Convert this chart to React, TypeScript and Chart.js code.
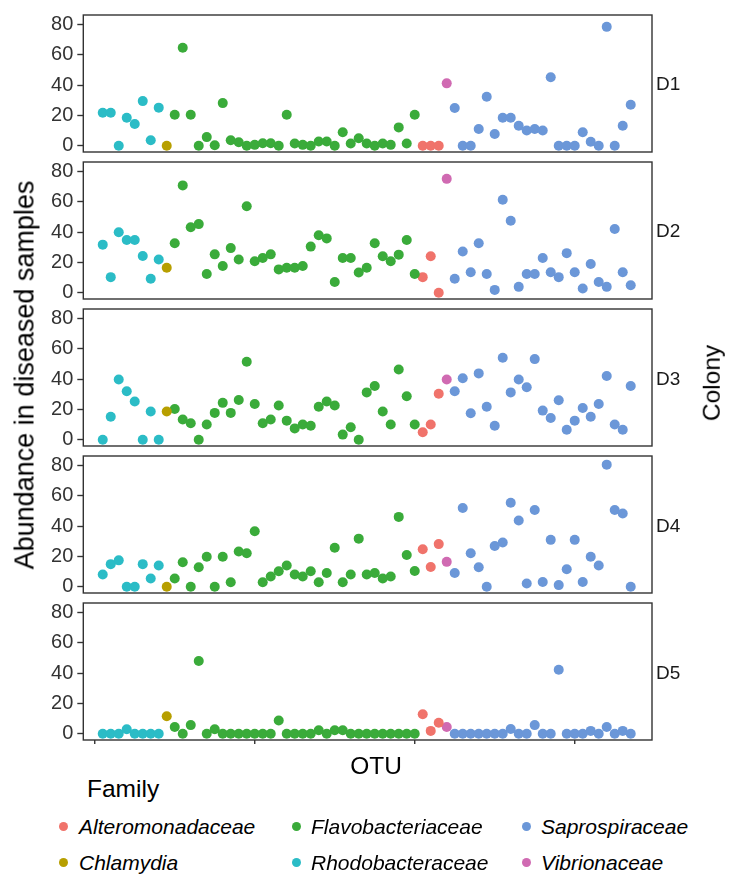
import React, { useEffect, useRef } from "react";
import { Chart, registerables } from "chart.js";

Chart.register(...registerables);

// ---------- data ----------
const families = [
  "Alteromonadaceae",
  "Chlamydia",
  "Flavobacteriaceae",
  "Rhodobacteraceae",
  "Saprospiraceae",
  "Vibrionaceae",
];
const familyColors = ["#F0736B", "#B79F00", "#3AAB3A", "#2BBCC6", "#6B97D8", "#D06AB2"];
// OTUs along the x axis, as runs of [family index, number of OTUs]
const otuFamilyRuns: [number, number][] = [
  [3, 8],
  [1, 1],
  [2, 31],
  [0, 3],
  [5, 1],
  [4, 23],
];
const colonies = ["D1", "D2", "D3", "D4", "D5"];

const D1 = [
  21.7, 21.7, 0, 18.5, 14.3, 29.4, 3.6, 25.1,
  0,
  20.4, 64.5, 20.4, 0, 5.7, 0.4, 28.1, 3.6, 2.3, 0, 0.6, 1.7, 1.7, 0, 20.4, 1.5, 0.6, 0, 2.8, 2.8, 0, 8.9, 1.5, 4.9, 1.5, 0, 1.5, 0.6, 12.1, 1.5, 20.4,
  0, 0, 0,
  41.1,
  24.9, 0, 0, 11.1, 32.3, 7.7, 18.5, 18.5, 13.2, 10, 11.1, 10, 45.1, 0, 0, 0, 8.9, 2.6, 0, 78.3, 0, 13.2, 27.0,
];
const D2 = [
  31.7, 10.3, 39.9, 34.7, 34.7, 24.2, 9.2, 21.9,
  16.5,
  32.6, 70.7, 43.1, 45.2, 12.4, 25.3, 17.6, 29.4, 21.9, 57.0, 20.8, 22.9, 25.3, 15.4, 16.5, 16.5, 17.6, 30.4, 37.9, 35.8, 7.1, 22.9, 22.9, 13.3, 16.5, 32.6, 24.0, 20.8, 25.1, 34.7, 12.4,
  10.3, 24.0, 0,
  75.0,
  9.2, 27.2, 13.5, 32.6, 12.4, 1.9, 61.3, 47.4, 3.9, 12.4, 12.4, 22.9, 13.5, 10.3, 26.1, 13.5, 2.8, 18.9, 7.1, 3.9, 42.0, 13.5, 4.9,
];
const D3 = [
  0, 15.2, 39.7, 32.0, 25.2, 0, 18.6, 0,
  18.6,
  20.3, 13.4, 10.9, 0, 10.0, 17.7, 24.3, 17.7, 26.2, 51.4, 23.5, 10.9, 13.4, 22.6, 12.6, 7.5, 10.0, 9.2, 21.8, 25.2, 22.6, 3.4, 8.3, 0, 31.2, 35.4, 18.6, 10.0, 46.3, 28.6, 10.0,
  4.9, 10.0, 30.3,
  39.7,
  32.0, 40.5, 17.5, 43.7, 21.8, 9.2, 54.0, 31.2, 39.7, 34.6, 53.1, 19.2, 14.3, 26.0, 6.6, 12.6, 20.9, 15.2, 23.5, 42.0, 10.0, 6.6, 35.4,
];
const D4 = [
  8.1, 14.9, 17.4, 0, 0, 14.9, 5.5, 14.0,
  0,
  5.5, 16.2, 0, 12.8, 19.8, 0, 19.8, 3.0, 23.2, 22.1, 36.6, 3.0, 6.8, 10.2, 14.0, 8.1, 6.8, 10.2, 3.0, 9.1, 25.7, 3.0, 8.1, 31.7, 8.1, 9.1, 5.5, 6.8, 46.0, 20.9, 10.4,
  24.7, 13.0, 28.1,
  16.4,
  9.1, 51.9, 22.1, 12.8, 0, 26.8, 29.2, 55.3, 43.6, 2.1, 50.6, 3.2, 30.9, 1.1, 11.5, 30.9, 3.2, 19.8, 14.0, 80.4, 50.6, 48.3, 0,
];
const D5 = [
  0, 0, 0, 3.0, 0, 0, 0, 0,
  11.5,
  4.5, 0, 5.7, 47.9, 0, 3.0, 0, 0, 0, 0, 0, 0, 0, 8.7, 0, 0, 0, 0, 2.3, 0, 2.3, 2.3, 0, 0, 0, 0, 0, 0, 0, 0, 0,
  12.8, 1.9, 7.2,
  4.5,
  0, 0, 0, 0, 0, 0, 0, 3.2, 0, 0, 5.7, 0, 0, 42.1, 0, 0, 0, 1.9, 0, 4.5, 0, 1.9, 0,
];
const colonyValues = [D1, D2, D3, D4, D5];
const yTicks = [0, 20, 40, 60, 80];
const xTicks = [0, 20, 40, 60];

// ---------- layout ----------
const FONT = '"Liberation Sans", Arial, Helvetica, sans-serif';
const PANEL_LEFT = 83.3;
const PANEL_RIGHT = 652;
const PANEL_H = 141;
const PANEL_TOPS = [12.6, 159.8, 307, 454.1, 601.3];
const PAD = 14;
const W = 734;

const otuFamily: number[] = [];
otuFamilyRuns.forEach(([f, n]) => {
  for (let i = 0; i < n; i++) otuFamily.push(f);
});

const panelFrame = {
  id: "panelFrame",
  afterDatasetsDraw(chart: any, _args: any, opts: any) {
    const { ctx, chartArea: a } = chart;
    ctx.save();
    ctx.strokeStyle = "#333333";
    ctx.lineWidth = 1.4;
    ctx.strokeRect(a.left, a.top, a.right - a.left, a.bottom - a.top);
    if (opts && opts.showX) {
      const xs = chart.scales.x;
      ctx.beginPath();
      xTicks.forEach((t) => {
        const px = xs.getPixelForValue(t);
        ctx.moveTo(px, a.bottom);
        ctx.lineTo(px, a.bottom + 4);
      });
      ctx.stroke();
    }
    ctx.restore();
  },
};

function Panel({ values, top, showX }: { values: number[]; top: number; showX: boolean }) {
  const ref = useRef<HTMLCanvasElement | null>(null);
  useEffect(() => {
    if (!ref.current) return;
    const datasets = otuFamilyRuns.map(([fi]) => ({
      label: families[fi],
      data: values
        .map((v, i) => ({ x: i + 1, y: v, f: otuFamily[i] }))
        .filter((p) => p.f === fi)
        .map((p) => ({ x: p.x, y: p.y })),
      backgroundColor: familyColors[fi],
      borderWidth: 0,
      pointRadius: 5,
      pointHoverRadius: 5,
    }));
    const chart = new Chart(ref.current, {
      type: "scatter",
      data: { datasets },
      plugins: [panelFrame],
      options: {
        animation: false,
        responsive: false,
        maintainAspectRatio: false,
        devicePixelRatio: 1,
        layout: { padding: { left: 0, right: W - PANEL_RIGHT, top: PAD, bottom: PAD } },
        plugins: {
          legend: { display: false },
          tooltip: { enabled: false },
          panelFrame: { showX },
        } as any,
        scales: {
          x: { type: "linear", min: -1.43, max: 69.66, display: false },
          y: {
            type: "linear",
            min: -4.1,
            max: 86.1,
            afterBuildTicks: (s: any) => {
              s.ticks = yTicks.map((v) => ({ value: v }));
            },
            afterFit: (s: any) => {
              s.width = PANEL_LEFT;
            },
            grid: {
              display: true,
              drawOnChartArea: false,
              drawTicks: true,
              tickLength: 6,
              tickColor: "#333333",
              tickWidth: 1.4,
            },
            border: { display: false },
            ticks: {
              color: "#333333",
              font: { family: FONT, size: 20 },
              padding: 4,
              autoSkip: false,
            },
          },
        },
      } as any,
    });
    return () => chart.destroy();
  }, [values, showX]);
  const h = PANEL_H + 2 * PAD;
  return (
    <canvas
      ref={ref}
      width={W}
      height={h}
      style={{ position: "absolute", left: 0, top: top - PAD, width: W, height: h }}
    />
  );
}

const text = (extra: React.CSSProperties): React.CSSProperties => ({
  position: "absolute",
  fontFamily: FONT,
  whiteSpace: "nowrap",
  lineHeight: 1,
  ...extra,
});

export default function App() {
  return (
    <div
      style={{
        position: "absolute",
        left: 0,
        top: 0,
        width: W,
        height: 874,
        background: "#ffffff",
        overflow: "hidden",
      }}
    >
      {colonyValues.map((vals, i) => (
        <Panel key={colonies[i]} values={vals} top={PANEL_TOPS[i]} showX={i === colonyValues.length - 1} />
      ))}
      {colonies.map((c, i) => (
        <div
          key={"lab" + c}
          style={text({
            left: PANEL_RIGHT + 4,
            top: PANEL_TOPS[i] + PANEL_H / 2,
            transform: "translateY(-50%)",
            fontSize: 19,
            color: "#1a1a1a",
          })}
        >
          {c}
        </div>
      ))}
      <div
        style={text({
          left: 25,
          top: 375,
          transform: "translate(-50%, -50%) rotate(-90deg)",
          fontSize: 27,
          color: "#000",
        })}
      >
        Abundance in diseased samples
      </div>
      <div
        style={text({
          left: 712,
          top: 383,
          transform: "translate(-50%, -50%) rotate(-90deg)",
          fontSize: 24.5,
          color: "#000",
        })}
      >
        Colony
      </div>
      <div
        style={text({
          left: 376,
          top: 766,
          transform: "translate(-50%, -50%)",
          fontSize: 24.5,
          color: "#000",
        })}
      >
        OTU
      </div>
      <div style={text({ left: 87, top: 789, transform: "translateY(-50%)", fontSize: 24.5, color: "#000" })}>
        Family
      </div>
      {families.map((f, i) => {
        const col = Math.floor(i / 2);
        const row = i % 2;
        const dotX = [63, 296, 526][col];
        const textX = [79, 311, 541][col];
        const y = [826, 862][row];
        return (
          <React.Fragment key={"leg" + f}>
            <div
              style={{
                position: "absolute",
                left: dotX - 4.5,
                top: y - 4.5,
                width: 9,
                height: 9,
                borderRadius: "50%",
                background: familyColors[i],
              }}
            />
            <div
              style={text({
                left: textX,
                top: y,
                transform: "translateY(-50%)",
                fontSize: 21,
                fontStyle: "italic",
                color: "#000",
              })}
            >
              {f}
            </div>
          </React.Fragment>
        );
      })}
    </div>
  );
}
